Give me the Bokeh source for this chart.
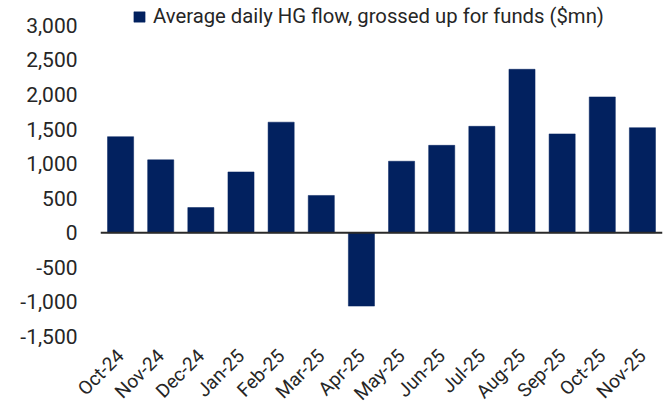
import math
from bokeh.plotting import figure
from bokeh.models import ColumnDataSource, Span, Legend, LegendItem, NumeralTickFormatter, FixedTicker
from bokeh.embed import file_html
from bokeh.resources import INLINE

months = ["Oct-24", "Nov-24", "Dec-24", "Jan-25", "Feb-25", "Mar-25", "Apr-25",
          "May-25", "Jun-25", "Jul-25", "Aug-25", "Sep-25", "Oct-25", "Nov-25"]
flows = [1390, 1055, 365, 880, 1600, 540, -1060, 1035, 1265, 1540, 2365, 1430, 1965, 1520]
y_ticks = [-1500, -1000, -500, 0, 500, 1000, 1500, 2000, 2500, 3000]
series_name = "Average daily HG flow, grossed up for funds ($mn)"

FONT = "Roboto"
TXT = "#262626"
BAR = "#02215F"

src = ColumnDataSource(dict(month=months, flow=flows))

# the top of the plot area holds the legend above the 3,000 level
p = figure(x_range=months, y_range=(-1500, 3360), width=668, height=415, title=None,
           output_backend="svg", toolbar_location=None,
           min_border_left=100, min_border_right=6, min_border_top=0, min_border_bottom=78)

r = p.vbar(x="month", top="flow", width=0.65, source=src, fill_color=BAR, line_color=BAR, line_width=0.5)

p.add_layout(Span(location=0, dimension="width", line_color="#2a2a2a", line_width=2))

p.outline_line_color = None
p.grid.grid_line_color = None
p.background_fill_color = "white"
p.border_fill_color = "white"

ya = p.yaxis[0]
ya.ticker = FixedTicker(ticks=y_ticks)
ya.formatter = NumeralTickFormatter(format="0,0")
ya.axis_line_color = None
ya.major_tick_line_color = None
ya.minor_tick_line_color = None
ya.major_tick_out = 0
ya.major_tick_in = 0
ya.major_label_standoff = 23
ya.major_label_text_font = FONT
ya.major_label_text_font_size = "21px"
ya.major_label_text_color = TXT

xa = p.xaxis[0]
xa.axis_line_color = None
xa.major_tick_line_color = None
xa.major_tick_out = 0
xa.major_tick_in = 0
xa.major_label_orientation = math.pi / 4
xa.major_label_standoff = 16
xa.major_label_text_font = FONT
xa.major_label_text_font_size = "19px"
xa.major_label_text_color = TXT

legend = Legend(items=[LegendItem(label=series_name, renderers=[r])],
                location=(32, 308), orientation="horizontal",
                border_line_color=None, background_fill_alpha=0,
                padding=0, margin=0, spacing=0,
                glyph_width=14, glyph_height=13, label_standoff=7,
                label_text_font=FONT, label_text_font_size="20.3px", label_text_color=TXT)
p.add_layout(legend)

open("out.html", "w").write(file_html(p, INLINE))
